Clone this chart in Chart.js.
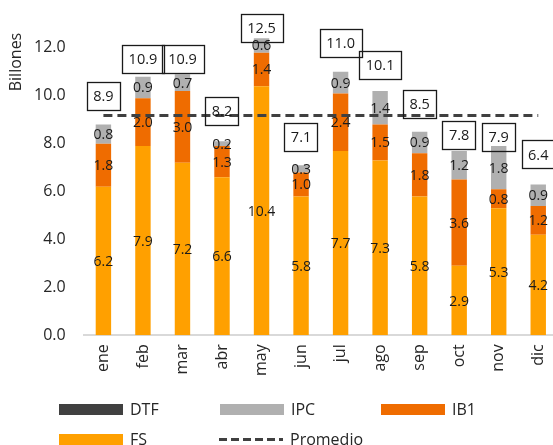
<!DOCTYPE html>
<html>
<head>
<meta charset="utf-8">
<script src="https://cdn.jsdelivr.net/npm/chart.js@4/dist/chart.umd.min.js"></script>
<style>
  html, body { margin: 0; padding: 0; background: #fff; overflow: hidden; }
  #wrap { position: relative; width: 560px; height: 445px; font-family: "Open Sans", "Noto Sans", sans-serif; }
  #c { position: absolute; left: 0; top: 0; }
  .lg { position: absolute; display: flex; align-items: center; font-size: 16px; color: #262626; height: 20px; }
  .lg .sw { width: 64px; height: 11px; margin-right: 7px; }
  .lg .dash { width: 64px; height: 3px; margin-right: 7px;
    background: repeating-linear-gradient(to right, #404040 0 8px, transparent 8px 12px); }
</style>
</head>
<body>
<div id="wrap">
  <canvas id="c" width="560" height="445"></canvas>
  <div id="legend"></div>
</div>
<script>
// ---- data ----
const months = ['ene','feb','mar','abr','may','jun','jul','ago','sep','oct','nov','dic'];
const fs  = [6.2, 7.9, 7.2, 6.6, 10.4, 5.8, 7.7, 7.3, 5.8, 2.9, 5.3, 4.2];
const ib1 = [1.8, 2.0, 3.0, 1.3, 1.4, 1.0, 2.4, 1.5, 1.8, 3.6, 0.8, 1.2];
const ipc = [0.8, 0.9, 0.7, 0.2, 0.6, 0.3, 0.9, 1.4, 0.9, 1.2, 1.8, 0.9];
const dtf = [0, 0, 0, 0, 0, 0, 0, 0, 0, 0, 0, 0];
const totals = [8.9, 10.9, 10.9, 8.2, 12.5, 7.1, 11.0, 10.1, 8.5, 7.8, 7.9, 6.4];
const promedio = [9.18, 9.18, 9.18, 9.18, 9.18, 9.18, 9.18, 9.18, 9.18, 9.18, 9.18, 9.18];
const yTicks = [0, 2, 4, 6, 8, 10, 12];

// ---- styles ----
const COLORS = { DTF: '#404040', IPC: '#b0b0b0', IB1: '#ef6c00', FS: '#ffa000', Promedio: '#404040' };
const FONT = '"Open Sans", "Noto Sans", sans-serif';
// vertical lift of the boxed total labels above each bar (value units), as placed in the original
const totalLift = [1.1, 0.65, 0.65, 1.15, 0.35, 1.2, 1.2, 1.2, 1.15, 0.55, 0.4, 1.15];

const barLabels = {
  id: 'barLabels',
  afterDatasetsDraw(chart) {
    const ctx = chart.ctx;
    ctx.save();
    ctx.font = '14px ' + FONT;
    ctx.fillStyle = '#1a1a1a';
    ctx.textAlign = 'center';
    ctx.textBaseline = 'middle';
    chart.data.datasets.forEach((ds, i) => {
      if (ds.type === 'line' || !ds.showValues) return;
      const meta = chart.getDatasetMeta(i);
      meta.data.forEach((el, j) => {
        const v = ds.data[j];
        if (!v) return;
        ctx.fillText(v.toFixed(1), el.x, (el.y + el.base) / 2 + 1);
      });
    });
    // boxed totals
    const ys = chart.scales.y;
    const xs = chart.scales.x;
    ctx.font = '14.5px ' + FONT;
    ctx.strokeStyle = '#1a1a1a';
    ctx.lineWidth = 1.3;
    totals.forEach((t, j) => {
      const txt = t.toFixed(1);
      const cx = xs.getPixelForValue(j);
      const cy = ys.getPixelForValue(t + totalLift[j]);
      const w = ctx.measureText(txt).width + 13;
      const h = 28;
      ctx.strokeRect(Math.round(cx - w / 2) + 0.5, Math.round(cy - h / 2) + 0.5, Math.round(w), h);
      ctx.fillText(txt, cx, cy + 1);
    });
    // axis title
    ctx.save();
    ctx.translate(16, 62);
    ctx.rotate(-Math.PI / 2);
    ctx.font = '16px ' + FONT;
    ctx.fillStyle = '#262626';
    ctx.fillText('Billones', 0, 0);
    ctx.restore();
    ctx.restore();
  }
};

const barCommon = { type: 'bar', stack: 'm', categoryPercentage: 1, barPercentage: 0.39, borderWidth: 0, order: 1 };

function noScalePadding(scale) {
  scale.paddingTop = 0; scale.paddingBottom = 0; scale.paddingLeft = 0; scale.paddingRight = 0;
}

const chart = new Chart(document.getElementById('c'), {
  data: {
    labels: months,
    datasets: [
      Object.assign({ label: 'FS', data: fs, backgroundColor: COLORS.FS, showValues: true }, barCommon),
      Object.assign({ label: 'IB1', data: ib1, backgroundColor: COLORS.IB1, showValues: true }, barCommon),
      Object.assign({ label: 'IPC', data: ipc, backgroundColor: COLORS.IPC, showValues: true }, barCommon),
      Object.assign({ label: 'DTF', data: dtf, backgroundColor: COLORS.DTF, showValues: false }, barCommon),
      { type: 'line', label: 'Promedio', data: promedio, stack: 'avg', borderColor: COLORS.Promedio,
        borderWidth: 3, borderDash: [9, 5], pointRadius: 0, fill: false, order: 0 }
    ]
  },
  options: {
    responsive: false,
    animation: false,
    devicePixelRatio: 1,
    layout: { padding: { left: 16, right: 2, top: 0, bottom: 60 } },
    plugins: { legend: { display: false }, tooltip: { enabled: false } },
    scales: {
      x: {
        stacked: true,
        afterFit: noScalePadding,
        grid: { display: false, drawTicks: false },
        border: { display: true, color: '#d9d9d9', width: 2 },
        ticks: { autoSkip: false, minRotation: 90, maxRotation: 90, padding: 9,
                 color: '#262626', font: { family: FONT, size: 16 } }
      },
      y: {
        stacked: true,
        min: 0, max: 14,
        afterFit: noScalePadding,
        grid: { display: false, drawTicks: false },
        border: { display: false },
        afterBuildTicks(scale) { scale.ticks = yTicks.map(v => ({ value: v })); },
        ticks: { padding: 18, color: '#262626', font: { family: FONT, size: 16 },
                 callback: v => Number(v).toFixed(1) }
      }
    }
  },
  plugins: [barLabels]
});

// ---- legend (HTML, built from dataset definitions) ----
const legendItems = [
  { name: 'DTF', kind: 'box', x: 59, y: 399 },
  { name: 'IPC', kind: 'box', x: 220, y: 399 },
  { name: 'IB1', kind: 'box', x: 381, y: 399 },
  { name: 'FS', kind: 'box', x: 59, y: 429 },
  { name: 'Promedio', kind: 'line', x: 219, y: 429 }
];
const lg = document.getElementById('legend');
legendItems.forEach(it => {
  const d = document.createElement('div');
  d.className = 'lg';
  d.style.left = it.x + 'px';
  d.style.top = it.y + 'px';
  const sw = document.createElement('div');
  if (it.kind === 'box') { sw.className = 'sw'; sw.style.background = COLORS[it.name]; }
  else { sw.className = 'dash'; }
  d.appendChild(sw);
  const t = document.createElement('span');
  t.textContent = it.name;
  d.appendChild(t);
  lg.appendChild(d);
});
</script>
</body>
</html>
